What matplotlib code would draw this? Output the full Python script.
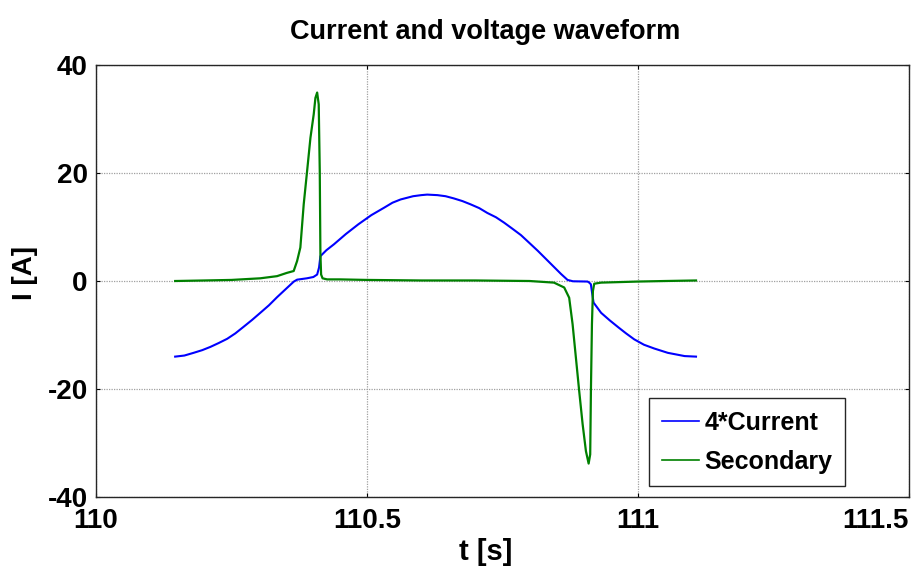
import numpy as np
from matplotlib import pyplot as plt

# 4*Current
t_cur = [110.146, 110.163, 110.180, 110.196, 110.211, 110.226, 110.242, 110.257,
         110.272, 110.288, 110.303, 110.319, 110.334, 110.350, 110.365, 110.371,
         110.389, 110.401, 110.408, 110.4115, 110.414, 110.425, 110.439, 110.461,
         110.484, 110.508, 110.532, 110.547, 110.562, 110.585, 110.600, 110.611,
         110.630, 110.645, 110.660, 110.676, 110.691, 110.707, 110.722, 110.738,
         110.753, 110.768, 110.784, 110.799, 110.815, 110.830, 110.845, 110.858,
         110.870, 110.880, 110.907, 110.910, 110.913, 110.915, 110.918, 110.932,
         110.948, 110.964, 110.978, 110.993, 111.011, 111.030, 111.055, 111.086,
         111.107]
i_cur = [-14.0, -13.8, -13.3, -12.8, -12.2, -11.5, -10.7, -9.7,
         -8.5, -7.2, -5.9, -4.5, -3.0, -1.5, -0.1, 0.25,
         0.5, 0.74, 1.2, 2.5, 4.6, 5.7, 6.8, 8.7,
         10.5, 12.2, 13.6, 14.5, 15.1, 15.7, 15.9, 16.0,
         15.9, 15.7, 15.3, 14.8, 14.2, 13.5, 12.6, 11.8,
         10.8, 9.7, 8.5, 7.1, 5.6, 4.1, 2.6, 1.3,
         0.2, -0.05, -0.1, -0.3, -0.6, -2.0, -4.0, -5.9,
         -7.3, -8.6, -9.7, -10.8, -11.8, -12.5, -13.3, -13.9,
         -14.0]

# Secondary
t_sec = [110.146, 110.200, 110.250, 110.303, 110.334, 110.352, 110.3647, 110.371,
         110.377, 110.3832, 110.3895, 110.3956, 110.4017, 110.4048, 110.408, 110.4109,
         110.4128, 110.414, 110.4153, 110.418, 110.4264, 110.450, 110.500, 110.600,
         110.700, 110.800, 110.845, 110.8638, 110.873, 110.8793, 110.8854, 110.8915,
         110.8978, 110.9039, 110.9089, 110.9118, 110.9131, 110.9150, 110.9168, 110.9192,
         110.9316, 111.000, 111.050, 111.107]
i_sec = [0.0, 0.1, 0.2, 0.5, 0.9, 1.5, 1.85, 3.7,
         6.2, 14.2, 20.4, 26.5, 30.9, 33.9, 34.9, 32.7,
         20.4, 5.0, 1.2, 0.5, 0.3, 0.3, 0.2, 0.1,
         0.1, 0.0, -0.3, -1.2, -3.1, -8.0, -14.2, -20.4,
         -26.5, -31.5, -33.8, -32.1, -20.4, -8.0, -1.85, -0.5,
         -0.3, -0.1, 0.0, 0.1]

plt.rcParams['font.family'] = ['Liberation Sans', 'DejaVu Sans']
plt.rcParams['font.weight'] = 'bold'
plt.rcParams['axes.unicode_minus'] = False

fig = plt.figure(figsize=(9.18, 5.70), dpi=100)
ax = fig.add_axes([0.1046, 0.128, 0.8856, 0.758])

ax.plot(t_cur, i_cur, color=(0, 0, 1), lw=1.5, label='4*Current')
ax.plot(t_sec, i_sec, color=(0, 0.5, 0), lw=1.6, label='Secondary')

ax.set_xlim(110, 111.5)
ax.set_ylim(-40, 40)
ax.set_xticks([110, 110.5, 111, 111.5])
ax.set_xticklabels(['110', '110.5', '111', '111.5'])
ax.set_yticks([-40, -20, 0, 20, 40])
ax.grid(True, color='#a0a0a0', lw=0.9, ls=(0, (1, 1)))
ax.tick_params(direction='in', top=True, right=True, length=3, labelsize=20)
ax.tick_params(axis='y', pad=6)
ax.tick_params(axis='x', pad=8)
# last label kept inside the figure, as in the original
ax.get_xticklabels()[-1].set_ha('right')
for s in ax.spines.values():
    s.set_linewidth(1.0)
    s.set_color('#262626')

ax.set_title('Current and voltage waveform', fontsize=19.5, fontweight='bold', x=0.479, pad=19)
ax.set_xlabel('t [s]', fontsize=21, fontweight='bold')
ax.xaxis.set_label_coords(0.479, -0.095)
ax.xaxis.label.set_va('top')
ax.set_ylabel('I [A]', fontsize=20, fontweight='bold')
ax.yaxis.set_label_coords(-0.071, 0.518)

leg = ax.legend(loc='lower right', bbox_to_anchor=(0.921, 0.0255), fontsize=18,
                handlelength=1.5, handletextpad=0.2, borderaxespad=0,
                fancybox=False, edgecolor='#262626', framealpha=1,
                borderpad=0.5, labelspacing=0.6)
leg.get_frame().set_linewidth(1.0)
for h in leg.get_lines():
    h.set_linewidth(1.2)

fig.savefig('out.png', dpi=100)
